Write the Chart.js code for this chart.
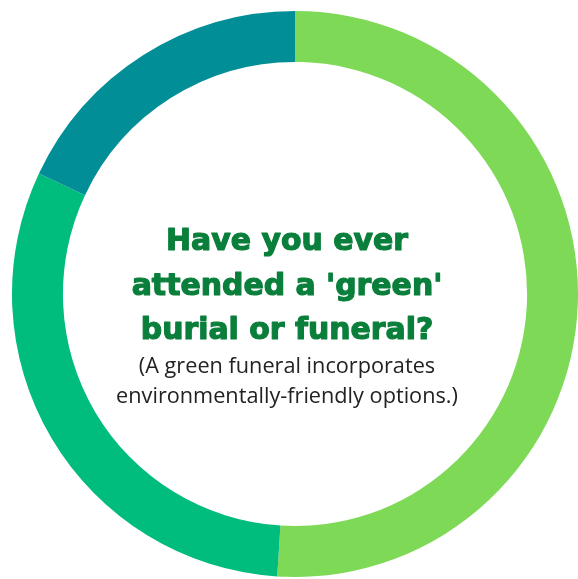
<!DOCTYPE html>
<html>
<head>
<meta charset="utf-8">
<script src="https://cdn.jsdelivr.net/npm/chart.js@4"></script>
<style>
  html, body { margin: 0; padding: 0; background: #fff; overflow: hidden; }
  body { width: 578px; height: 579px; position: relative; }
  #wrap { position: absolute; left: 12px; top: 11px; width: 566px; height: 566px; }
</style>
</head>
<body>
<div id="wrap"><canvas id="myChart"></canvas></div>
<script>
const labels = ['No', 'Yes', 'Not sure']
const values = [51, 31, 18]
const colors = ['#7ed957', '#00bc7d', '#028e97']
const titleLines = ['Have you ever', "attended a 'green'", 'burial or funeral?']
const noteLines = ['(A green funeral incorporates', 'environmentally-friendly options.)']

// size a font so the widest line gets the wanted width
function fitFont(c, weight, family, lines, width) {
  c.font = weight + ' 100px ' + family
  const w = Math.max(...lines.map(t => c.measureText(t).width))
  return weight + ' ' + (100 * width / w).toFixed(1) + 'px ' + family
}

const centerText = {
  id: 'centerText',
  afterDraw(chart) {
    const c = chart.ctx
    const x = 287 - 12
    const top = 11
    c.save()
    c.textAlign = 'center'
    c.textBaseline = 'alphabetic'
    c.fillStyle = '#0a7f3b'
    c.strokeStyle = '#0a7f3b'
    c.lineWidth = 1.2
    c.lineJoin = 'round'
    c.font = fitFont(c, 'bold', '"DejaVu Sans"', titleLines, 311)
    titleLines.forEach((t, i) => {
      c.fillText(t, x, 250 - top + i * 44.5)
      c.strokeText(t, x, 250 - top + i * 44.5)
    })
    c.fillStyle = '#222'
    c.font = fitFont(c, 'normal', '"Open Sans"', noteLines, 342)
    noteLines.forEach((t, i) => c.fillText(t, x, 373 - top + i * 29.5))
    c.restore()
  }
}

new Chart(document.getElementById('myChart'), {
  type: 'doughnut',
  data: {
    labels: labels,
    datasets: [{
      data: values,
      backgroundColor: colors,
      borderWidth: 0,
      hoverOffset: 0
    }]
  },
  options: {
    responsive: true,
    maintainAspectRatio: false,
    animation: false,
    cutout: '82%',
    layout: { padding: 0 },
    plugins: {
      legend: { display: false },
      tooltip: { enabled: false }
    }
  },
  plugins: [centerText]
})
</script>
</body>
</html>
